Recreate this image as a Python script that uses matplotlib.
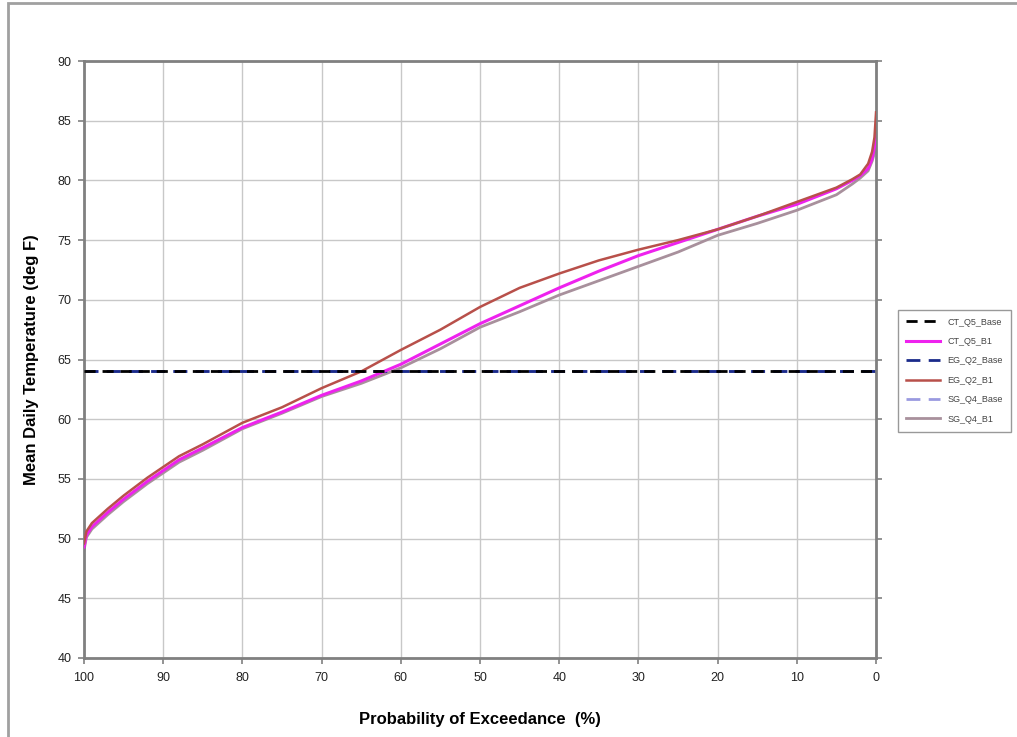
import matplotlib.pyplot as plt
from matplotlib.patches import Rectangle

plt.rcParams['font.family'] = ['Liberation Sans', 'DejaVu Sans']

# probabilidad de excedencia (%) y temperaturas
prob = [100, 99.7, 99, 97, 95, 92, 90, 88, 85, 80, 75, 70, 65, 60, 55, 50,
        45, 40, 35, 30, 25, 20, 15, 10, 5, 3, 2, 1, 0.5, 0.2, 0]

ct_q5_b1 = [49.3, 50.3, 51.0, 52.2, 53.3, 54.8, 55.7, 56.6, 57.6, 59.3, 60.6,
            62.0, 63.2, 64.6, 66.3, 68.0, 69.5, 71.0, 72.4, 73.7, 74.8, 75.9,
            77.0, 78.0, 79.3, 80.0, 80.4, 81.0, 81.8, 82.8, 84.0]
eg_q2_b1 = [49.6, 50.6, 51.3, 52.5, 53.6, 55.1, 56.0, 56.9, 57.9, 59.7, 61.0,
            62.6, 64.0, 65.8, 67.5, 69.4, 71.0, 72.2, 73.3, 74.2, 75.0, 75.9,
            77.0, 78.2, 79.4, 80.1, 80.5, 81.4, 82.4, 83.6, 85.7]
sg_q4_b1 = [49.0, 50.1, 50.8, 52.0, 53.1, 54.6, 55.5, 56.4, 57.4, 59.2, 60.5,
            61.9, 63.0, 64.3, 65.9, 67.7, 69.0, 70.4, 71.6, 72.8, 74.0, 75.4,
            76.4, 77.5, 78.8, 79.7, 80.2, 80.8, 81.6, 82.3, 83.0]
base_temp = 64.0

fig = plt.figure(figsize=(10.17, 7.37), dpi=100)
ax = fig.add_axes([0.0826, 0.1072, 0.7788, 0.81])

# marco exterior gris
fig.patches.append(Rectangle((8 / 1017, -0.02), 1.05, 0.02 + 1 - 3 / 737,
                             transform=fig.transFigure, fill=False,
                             edgecolor='#a0a0a0', linewidth=2, clip_on=False))

base = [base_temp] * len(prob)
ax.plot(prob, sg_q4_b1, color='#a8909c', linewidth=2, label='SG_Q4_B1', zorder=2)
ax.plot(prob, ct_q5_b1, color='#ee22ee', linewidth=2.2, label='CT_Q5_B1', zorder=3)
ax.plot(prob, eg_q2_b1, color='#b8504a', linewidth=1.8, label='EG_Q2_B1', zorder=4)
ax.plot(prob, base, color='#9a9ae0', linewidth=2, dashes=(5, 3), label='SG_Q4_Base', zorder=2)
ax.plot(prob, base, color='#1a2a8a', linewidth=2, dashes=(5, 3), label='EG_Q2_Base', zorder=2)
ax.plot(prob, base, color='black', linewidth=2, dashes=(4, 2.5), label='CT_Q5_Base', zorder=5)

ax.set_xlim(100, 0)
ax.set_ylim(40, 90)
ax.set_xticks(range(100, -1, -10))
ax.set_yticks(range(40, 91, 5))
ax.grid(True, color='#c8c8c8', linewidth=1)
ax.set_axisbelow(True)

for s in ax.spines.values():
    s.set_color('#808080')
    s.set_linewidth(2)
ax.tick_params(axis='both', labelsize=9, colors='#808080', labelcolor='#222222',
               length=4, width=1.2)
ax.tick_params(axis='y', right=True, direction='out', pad=5)
ax.tick_params(axis='x', direction='out', pad=6)

ax.set_xlabel('Probability of Exceedance  (%)', fontsize=12, fontweight='bold',
              labelpad=20)
ax.set_ylabel('Mean Daily Temperature (deg F)', fontsize=12, fontweight='bold',
              labelpad=13)

handles, labels = ax.get_legend_handles_labels()
order = ['CT_Q5_Base', 'CT_Q5_B1', 'EG_Q2_Base', 'EG_Q2_B1', 'SG_Q4_Base', 'SG_Q4_B1']
hmap = dict(zip(labels, handles))
leg = fig.legend([hmap[k] for k in order], order, loc='upper left',
                 bbox_to_anchor=(893 / 1017, 1 - 305 / 737), fontsize=6.5,
                 frameon=True, fancybox=False, edgecolor='#808080',
                 handlelength=3.8, labelspacing=1.15, borderpad=0.9,
                 handletextpad=0.8)
leg.get_frame().set_linewidth(1)
for t in leg.get_texts():
    t.set_color('#444444')

fig.savefig('out.png', dpi=100)
